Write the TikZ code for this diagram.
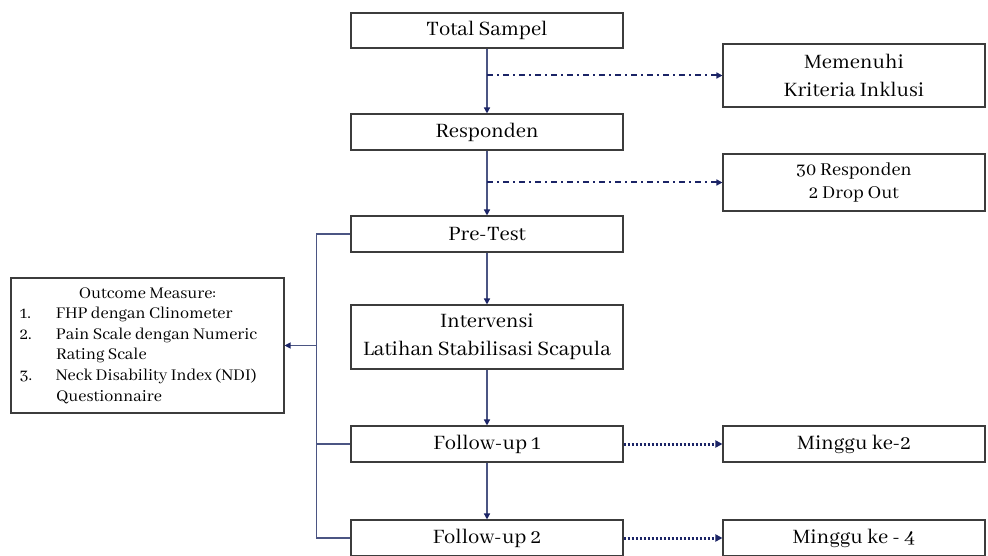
\documentclass[tikz,border=0pt]{standalone}
\usepackage{fontspec}
\setmainfont{Abhaya Libre}[Numbers=OldStyle]
\usetikzlibrary{arrows.meta,calc}
\definecolor{navy}{HTML}{1B2466}
\definecolor{conn}{HTML}{4B5583}
\definecolor{boxline}{HTML}{3C3C3C}
\begin{document}
\begin{tikzpicture}[x=1pt,y=-1pt,
  box/.style={draw=boxline,line width=1.1pt,rectangle,minimum width=272pt,minimum height=36pt,inner sep=2pt,align=center,font=\fontsize{22.5}{28}\selectfont},
  sidebox/.style={box,minimum width=262pt},
  navytip/.style={-{Triangle[length=6pt,width=6pt,color=navy]}},
  flow/.style={draw=conn,line width=1.4pt,navytip},
  dashdot/.style={draw=navy,line width=2pt,dash pattern=on 6pt off 4pt on 2pt off 4pt,-{Triangle[length=6pt,width=6pt]}},
  dotline/.style={draw=navy,line width=3pt,dash pattern=on 2.2pt off 1.8pt,-{Triangle[length=7pt,width=7pt]}},
  bus/.style={draw=conn,line width=1.2pt}]
\useasboundingbox (0,0) rectangle (988,556);
\node[box,minimum height=35pt] (total) at (487,30.5) {Total Sampel};
\node[box] (resp) at (487,132) {Responden};
\node[box] (pre) at (487,234) {Pre-Test};
\node[box,minimum height=64pt] (interv) at (487,337) {Intervensi\\Latihan Stabilisasi Scapula};
\node[box] (fu1) at (487,444) {Follow-up 1};
\node[box] (fu2) at (487,538) {Follow-up 2};
\node[sidebox,minimum height=63pt] (mem) at (854,75.5) {Memenuhi\\Kriteria Inklusi};
\node[sidebox,minimum height=57pt,font=\fontsize{20}{23}\selectfont] (r30) at (854,182.5) {30 Responden\\2 Drop Out};
\node[sidebox] (m2) at (854,444) {Minggu ke-2};
\node[sidebox] (m4) at (854,538) {Minggu ke - 4};
\node[draw=boxline,line width=1.1pt,rectangle,minimum width=273pt,minimum height=135pt,inner sep=0pt,font=\fontsize{18}{20.6}\selectfont] (out) at (147.5,345.5)
  {\begin{tabular}{@{}p{44pt}@{}l@{}}
   \multicolumn{2}{@{}c@{}}{\makebox[271pt]{Outcome Measure:}}\\
   \hspace{8pt}1. & FHP dengan Clinometer\\
   \hspace{8pt}2. & Pain Scale dengan Numeric\\
    & Rating Scale\\
   \hspace{8pt}3. & Neck Disability Index (NDI)\\
    & Questionnaire
   \end{tabular}};
\draw[flow] (total) -- (resp);
\draw[flow] (resp) -- (pre);
\draw[flow] (pre) -- (interv);
\draw[flow] (interv) -- (fu1);
\draw[flow] (fu1) -- (fu2);
\draw[dashdot] (total.south |- mem.west) -- (mem.west);
\draw[dashdot] (resp.south |- r30.west) -- (r30.west);
\draw[dotline] (fu1.east) -- (m2.west);
\draw[dotline] (fu2.east) -- (m4.west);
\coordinate (b) at ($(pre.west)+(-34,0)$);
\draw[bus] (pre.west) -- (b) |- (fu2.west);
\draw[bus] (fu1.west) -- (b |- fu1.west);
\draw[bus,navytip] (b |- out.east) -- (out.east);
\end{tikzpicture}
\end{document}
